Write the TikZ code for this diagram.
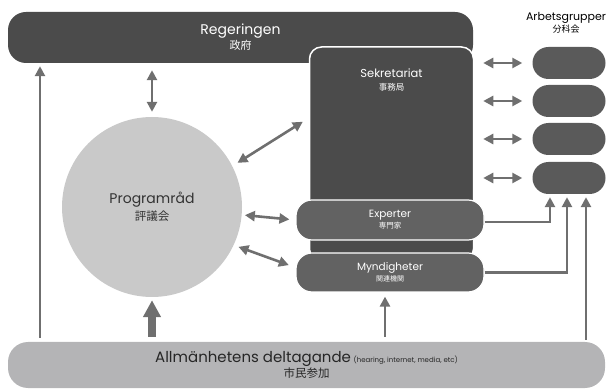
\documentclass[tikz,border=0pt]{standalone}
\usepackage{fontspec}
\setmainfont{Poppins}
\newfontfamily\jp{Noto Sans CJK JP}
\usetikzlibrary{arrows.meta,shapes.misc}
\definecolor{boxdark}{HTML}{4B4B4B}
\definecolor{boxmid}{HTML}{626262}
\definecolor{pillgray}{HTML}{5A5A5A}
\definecolor{circgray}{HTML}{C9C9C9}
\definecolor{basegray}{HTML}{B4B4B6}
\definecolor{arrowgray}{HTML}{6F6F6F}
\begin{document}
\begin{tikzpicture}[x=1pt, y=-1pt,
  every node/.style={align=center, inner sep=0pt},
  >={Triangle[length=10pt,width=10pt]},
  darkbox/.style={fill=boxdark, text=white},
  midbox/.style={fill=boxmid, text=white, draw=white, line width=1.2pt, rounded corners=16pt},
  pill/.style={rounded rectangle, fill=pillgray, minimum width=73pt, minimum height=32pt},
  conn/.style={->, draw=arrowgray, line width=2.6pt},
  both/.style={<->, draw=arrowgray, line width=2.6pt}]
  \useasboundingbox (0,0) rectangle (611,390);

  % top bar and secretariat
  \node[darkbox, rounded corners=18pt, minimum width=465pt, minimum height=51pt] (reg) at (240.5,37.5)
    {{\fontsize{14}{16}\selectfont Regeringen}\\[1pt] {\jp\fontsize{11}{12}\selectfont 政府}};
  \node[darkbox, draw=white, line width=1.5pt, rounded corners=12pt, minimum width=164pt, minimum height=214pt] (sekr) at (391.5,154) {};
  \node[text=white] (sekrtext) at (391.5,80)
    {{\fontsize{11.5}{13}\selectfont Sekretariat}\\[1pt] {\jp\fontsize{8.5}{9}\selectfont 事務局}};

  \node[midbox, minimum width=188pt, minimum height=40pt] (exp) at (390,220)
    {{\fontsize{10.5}{12}\selectfont Experter}\\[-1pt] {\jp\fontsize{7.5}{8}\selectfont 専門家}};
  \node[midbox, minimum width=188pt, minimum height=39pt] (myn) at (390,272.5)
    {{\fontsize{10.5}{12}\selectfont Myndigheter}\\[-1pt] {\jp\fontsize{7}{8}\selectfont 関連機関}};

  % working groups
  \node (arb) at (566,23)
    {{\fontsize{11}{12}\selectfont Arbetsgrupper}\\[0pt] {\jp\fontsize{9}{10}\selectfont 分科会}};
  \node[pill] (g1) at (569,63) {};
  \node[pill] (g2) at (569,101) {};
  \node[pill] (g3) at (569,139) {};
  \node[pill] (g4) at (569,178) {};

  \node[circle, fill=circgray, text=black!80, minimum size=180pt] (prog) at (152,207)
    {{\fontsize{14}{16}\selectfont Programråd}\\[2pt] {\jp\fontsize{11.5}{12}\selectfont 評議会}};

  \node[fill=basegray, text=black!85, rounded corners=20pt, minimum width=597pt, minimum height=46pt] (allm) at (306.5,365)
    {{\fontsize{15}{17}\selectfont Allmänhetens deltagande} {\fontsize{7}{8}\selectfont (hearing, internet, media, etc)}\\[1pt]
     {\jp\fontsize{11.5}{12}\selectfont 市民参加}};

  \coordinate (lx) at (40,0);

  \draw[conn, shorten <=4pt, shorten >=3pt] (allm.north -| lx) -- (reg.south -| lx);
  \draw[both, shorten <=7pt, shorten >=5pt] (reg.south -| prog.north) -- (prog.north);
  \draw[both, shorten <=6pt, shorten >=7pt] (prog.27) -- ([yshift=36pt]sekr.west);
  \draw[both, shorten <=3pt, shorten >=6pt] (prog.-5) -- (exp.west);
  \draw[both, shorten <=5pt, shorten >=7pt] (prog.-25) -- ([yshift=5pt]myn.west);
  \foreach \g in {g1,g2,g3,g4}
    \draw[both, shorten <=9pt, shorten >=10pt] (sekr.east |- \g) -- (\g.west);

  \draw[conn, shorten >=3pt] ([yshift=-2pt]exp.east) -| ([xshift=-19pt]g4.south);
  \draw[conn, shorten >=3pt] (myn.east) -| ([xshift=-2pt]g4.south);
  \draw[conn, shorten <=2pt, shorten >=3pt] ([xshift=17pt]g4.south |- allm.north) -- ([xshift=17pt]g4.south);
  \draw[conn, shorten <=5pt, shorten >=4pt] ([xshift=-5pt]myn.south |- allm.north) -- ([xshift=-5pt]myn.south);
  \draw[->, draw=arrowgray, line width=8pt, >={Triangle[length=17pt,width=17pt]}, shorten <=5pt, shorten >=3pt]
    (prog.south |- allm.north) -- (prog.south);
\end{tikzpicture}
\end{document}
